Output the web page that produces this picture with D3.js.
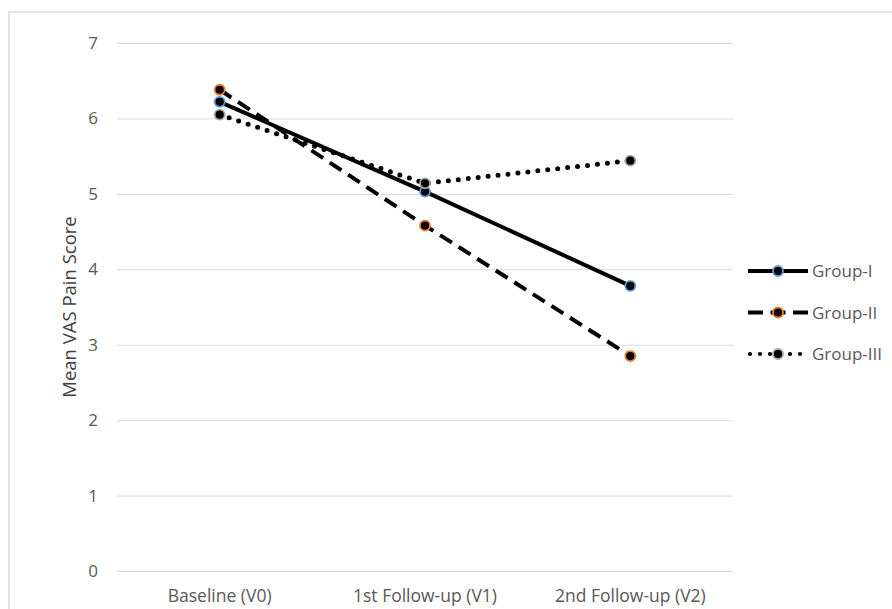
<!DOCTYPE html>
<html><head><meta charset="utf-8">
<script src="https://cdn.jsdelivr.net/npm/d3@7"></script>
<style>body{margin:0;background:#fff}svg{display:block}</style>
</head><body>
<svg id="c" width="892" height="609"></svg>
<script>
const categories = ["Baseline (V0)", "1st Follow-up (V1)", "2nd Follow-up (V2)"];
const groupI = [6.22, 5.03, 3.78];
const groupII = [6.38, 4.58, 2.85];
const groupIII = [6.05, 5.14, 5.44];
const seriesNames = ["Group-I", "Group-II", "Group-III"];
const yTicks = [0, 1, 2, 3, 4, 5, 6, 7];

const series = [
  {name: seriesNames[0], values: groupI, dash: null, legDash: null, legOff: 0, width: 4, ring: "#5b9bd5"},
  {name: seriesNames[1], values: groupII, dash: "14,8", legDash: "15,7.5", legOff: 0, width: 4, ring: "#ed7d31"},
  {name: seriesNames[2], values: groupIII, dash: "0,10", legDash: "0,10", legOff: -2, width: 5, ring: "#a5a5a5", cap: "round"}
];

const svg = d3.select("#c");
const font = "'Open Sans', 'Noto Sans', sans-serif";

svg.append("rect").attr("x", 9).attr("y", 12).attr("width", 900).attr("height", 620)
  .attr("fill", "#fff").attr("stroke", "#d9d9d9").attr("stroke-width", 1.5);

const x = d3.scaleBand().domain(categories).range([117, 733]);
const y = d3.scaleLinear().domain([0, 7]).range([571, 43]);

const gy = svg.append("g").attr("transform", "translate(117,0)")
  .call(d3.axisLeft(y).tickValues(yTicks).tickSize(-616).tickFormat(d3.format("d")));
gy.select(".domain").remove();
gy.selectAll("line").attr("stroke", "#d9d9d9").attr("stroke-width", 1);
gy.selectAll("text").attr("fill", "#595959").attr("font-size", 17).attr("font-family", font)
  .attr("text-anchor", "middle").attr("x", -24);

const gx = svg.append("g").attr("transform", "translate(0,571)")
  .call(d3.axisBottom(x).tickSize(0).tickPadding(19));
gx.select(".domain").remove();
gx.selectAll("text").attr("fill", "#595959").attr("font-size", 17.5).attr("font-family", font);

svg.append("text").attr("transform", "translate(76,307) rotate(-90)")
  .attr("text-anchor", "middle").attr("fill", "#404040").attr("font-size", 18.5).attr("font-family", font)
  .text("Mean VAS Pain Score");

const cx = d => x(d) + x.bandwidth() / 2;
const line = d3.line().x((v, i) => cx(categories[i])).y(v => y(v));

series.forEach(s => {
  svg.append("path").attr("d", line(s.values)).attr("fill", "none").attr("stroke", "#000")
    .attr("stroke-width", s.width).attr("stroke-dasharray", s.dash).attr("stroke-linecap", s.cap || "butt");
});
series.forEach(s => {
  svg.selectAll(null).data(s.values).enter().append("circle")
    .attr("cx", (v, i) => cx(categories[i])).attr("cy", v => y(v)).attr("r", 5)
    .attr("fill", "#000").attr("stroke", s.ring).attr("stroke-width", 1.8);
});

const leg = svg.append("g");
series.forEach((s, i) => {
  const ly = 271 + i * 41.5;
  leg.append("line").attr("x1", 748).attr("x2", 808).attr("y1", ly).attr("y2", ly)
    .attr("stroke", "#000").attr("stroke-width", i === 2 ? 4.2 : s.width)
    .attr("stroke-dasharray", s.legDash).attr("stroke-linecap", s.cap || "butt")
    .attr("stroke-dashoffset", s.legOff);
  leg.append("circle").attr("cx", 778).attr("cy", ly).attr("r", 5)
    .attr("fill", "#000").attr("stroke", s.ring).attr("stroke-width", 1.8);
  leg.append("text").attr("x", 812).attr("y", ly + 6).attr("fill", "#595959")
    .attr("font-size", 17).attr("font-family", font).text(s.name);
});
</script>
</body></html>
